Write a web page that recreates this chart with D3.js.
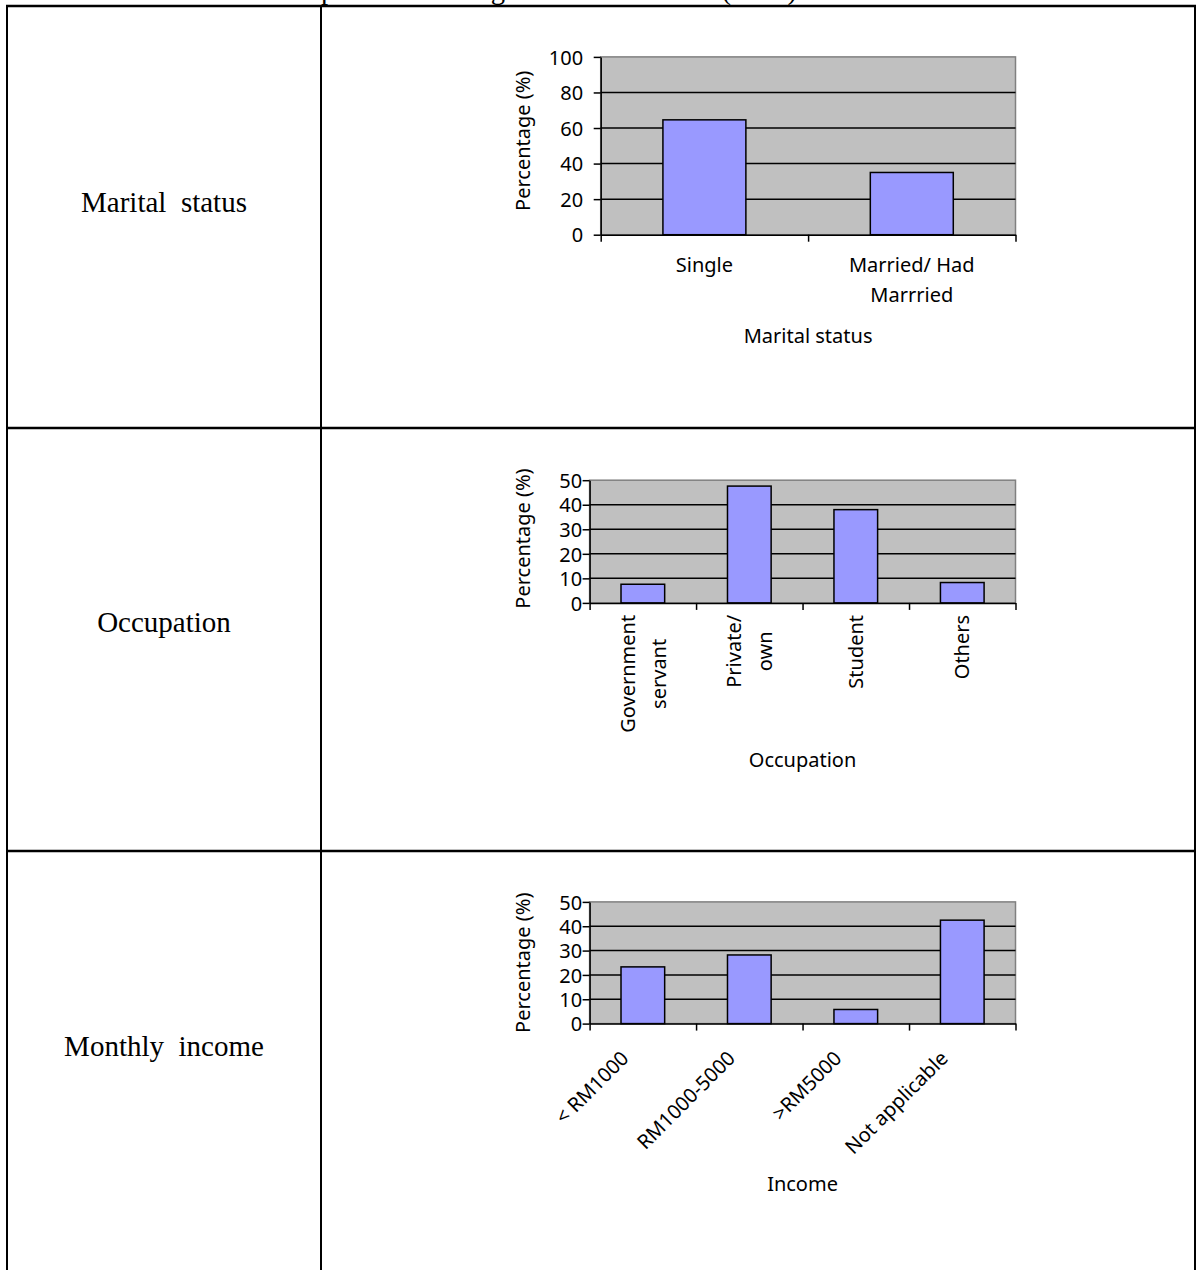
<!DOCTYPE html>
<html><head><meta charset="utf-8">
<script src="https://cdn.jsdelivr.net/npm/d3@7"></script>
<style>body{margin:0;background:#fff} svg{display:block}</style>
</head><body>
<svg id="c" width="1196" height="1270"></svg>
<script>
// ---------- data ----------
const titleText = "Table 1: Respondents' background information (cont.)";
const rowLabels = ["Marital  status", "Occupation", "Monthly  income"];
const yAxisTitle = "Percentage (%)";
const xAxisTitles = ["Marital status", "Occupation", "Income"];

const maritalCategories = [["Single"], ["Married/ Had", "Marrried"]];
const maritalValues = [64.6, 35.0];
const maritalTicks = [0, 20, 40, 60, 80, 100];

const occupationCategories = [["Government", "servant"], ["Private/", "own"], ["Student"], ["Others"]];
const occupationValues = [7.6, 47.6, 38.0, 8.3];
const occupationTicks = [0, 10, 20, 30, 40, 50];

const incomeCategories = ["< RM1000", "RM1000-5000", ">RM5000", "Not applicable"];
const incomeValues = [23.3, 28.2, 5.8, 42.5];
const incomeTicks = [0, 10, 20, 30, 40, 50];

// ---------- drawing ----------
const svg = d3.select("#c");
const SANS = "'Noto Sans', 'Open Sans', sans-serif";
const SERIF = "'Liberation Serif', 'Times New Roman', serif";

// clipped title at top
(function () {
  const t = svg.append("text").attr("y", -1.5).attr("font-family", SERIF)
    .attr("font-size", 29).text(titleText);
  const node = t.node();
  const total = node.getComputedTextLength();
  const idx = titleText.indexOf("p");
  const pre = node.getSubStringLength(0, idx);
  const k = (797 - 321) / (total - pre);
  t.attr("x", 321 - pre * k).attr("textLength", total * k).attr("lengthAdjust", "spacingAndGlyphs");
})();

// table grid
const grid = svg.append("g").attr("stroke", "#000");
grid.append("line").attr("x1", 6).attr("x2", 1196).attr("y1", 6).attr("y2", 6).attr("stroke-width", 2.5);
[7, 321, 1195].forEach(x => grid.append("line").attr("x1", x).attr("x2", x).attr("y1", 6).attr("y2", 1270).attr("stroke-width", 2));
[428, 851].forEach(y => grid.append("line").attr("x1", 6).attr("x2", 1196).attr("y1", y).attr("y2", y).attr("stroke-width", 2.5));

// row labels
const rowBaselines = [212, 632, 1056];
rowLabels.forEach((l, i) => svg.append("text").attr("x", 164).attr("y", rowBaselines[i])
  .attr("text-anchor", "middle").attr("font-family", SERIF).attr("font-size", 29)
  .style("white-space", "pre").text(l));

function drawChart(cfg) {
  const g = svg.append("g");
  const n = cfg.values.length;
  const y = d3.scaleLinear().domain([0, cfg.max]).range([cfg.bottom, cfg.top]);
  const x = d3.scaleBand().domain(d3.range(n)).range([cfg.left, cfg.right]);
  const xi = d3.scaleLinear().domain([0, n]).range([cfg.left, cfg.right]);

  g.append("rect").attr("x", cfg.left).attr("y", cfg.top)
    .attr("width", cfg.right - cfg.left).attr("height", cfg.bottom - cfg.top)
    .attr("fill", "#c0c0c0").attr("stroke", "#808080").attr("stroke-width", 1.5);

  g.selectAll(".grid").data(cfg.ticks.filter(t => t > 0 && t < cfg.max)).join("line")
    .attr("x1", cfg.left).attr("x2", cfg.right)
    .attr("y1", d => y(d)).attr("y2", d => y(d))
    .attr("stroke", "#000").attr("stroke-width", 1.5);

  const bw = x.bandwidth() * cfg.frac;
  g.selectAll(".bar").data(cfg.values).join("rect")
    .attr("x", (d, i) => x(i) + (x.bandwidth() - bw) / 2)
    .attr("width", bw)
    .attr("y", d => y(d)).attr("height", d => cfg.bottom - y(d))
    .attr("fill", "#9999ff").attr("stroke", "#000").attr("stroke-width", 1.5);

  const ya = g.append("g").attr("transform", `translate(${cfg.left},0)`)
    .call(d3.axisLeft(y).tickValues(cfg.ticks).tickSize(7).tickSizeOuter(0).tickPadding(cfg.pad));
  ya.selectAll("path,line").attr("stroke-width", 1.5);
  ya.selectAll("text").attr("font-family", SANS).attr("font-size", 20).attr("dy", "0.36em");

  const xa = g.append("g").attr("transform", `translate(0,${cfg.bottom})`)
    .call(d3.axisBottom(xi).tickValues(d3.range(n + 1)).tickFormat(() => "").tickSize(7).tickSizeOuter(0));
  xa.selectAll("path,line").attr("stroke-width", 1.5);

  const cx = i => x(i) + x.bandwidth() / 2;
  const txt = sel => sel.attr("font-family", SANS).attr("font-size", 20).attr("fill", "#000");

  if (cfg.mode === "h") {
    cfg.cats.forEach((lines, i) => lines.forEach((ln, j) =>
      txt(g.append("text")).attr("x", cx(i)).attr("y", cfg.bottom + 37 + j * 30)
        .attr("text-anchor", "middle").text(ln)));
  } else if (cfg.mode === "v") {
    cfg.cats.forEach((lines, i) => {
      const grp = g.append("g");
      const ts = lines.map((ln, j) => txt(grp.append("text")).attr("text-anchor", "middle").attr("dy", "0.36em").text(ln));
      const maxLen = d3.max(ts, t => t.node().getComputedTextLength());
      const cy = cfg.bottom + 12 + maxLen / 2;
      ts.forEach((t, j) => {
        const xx = cx(i) + (j - (lines.length - 1) / 2) * 31;
        t.attr("transform", `translate(${xx},${cy}) rotate(-90)`);
      });
    });
  } else {
    cfg.cats.forEach((l, i) =>
      txt(g.append("text")).attr("text-anchor", "end")
        .attr("transform", `translate(${cx(i) - 13},${cfg.bottom + 36}) rotate(-45)`).text(l));
  }

  txt(g.append("text")).attr("text-anchor", "middle")
    .attr("transform", `translate(530,${(cfg.top + cfg.bottom) / 2 - cfg.yTitleShift}) rotate(-90)`)
    .text(yAxisTitle);

  txt(g.append("text")).attr("text-anchor", "middle")
    .attr("x", (cfg.left + cfg.right) / 2).attr("y", cfg.titleY).text(cfg.xTitle);
}

drawChart({ values: maritalValues, cats: maritalCategories, ticks: maritalTicks, max: 100,
  left: 600.7, right: 1015.5, top: 56.9, bottom: 234.7, frac: 0.4, pad: 10.5, mode: "h",
  xTitle: xAxisTitles[0], titleY: 343, yTitleShift: 5 });

drawChart({ values: occupationValues, cats: occupationCategories, ticks: occupationTicks, max: 50,
  left: 589.6, right: 1015.5, top: 480.2, bottom: 602.9, frac: 0.41, pad: 0.5, mode: "v",
  xTitle: xAxisTitles[1], titleY: 767, yTitleShift: 3 });

drawChart({ values: incomeValues, cats: incomeCategories, ticks: incomeTicks, max: 50,
  left: 589.6, right: 1015.5, top: 901.9, bottom: 1023.6, frac: 0.41, pad: 0.5, mode: "d",
  xTitle: xAxisTitles[2], titleY: 1191, yTitleShift: 0 });
</script>
</body></html>
